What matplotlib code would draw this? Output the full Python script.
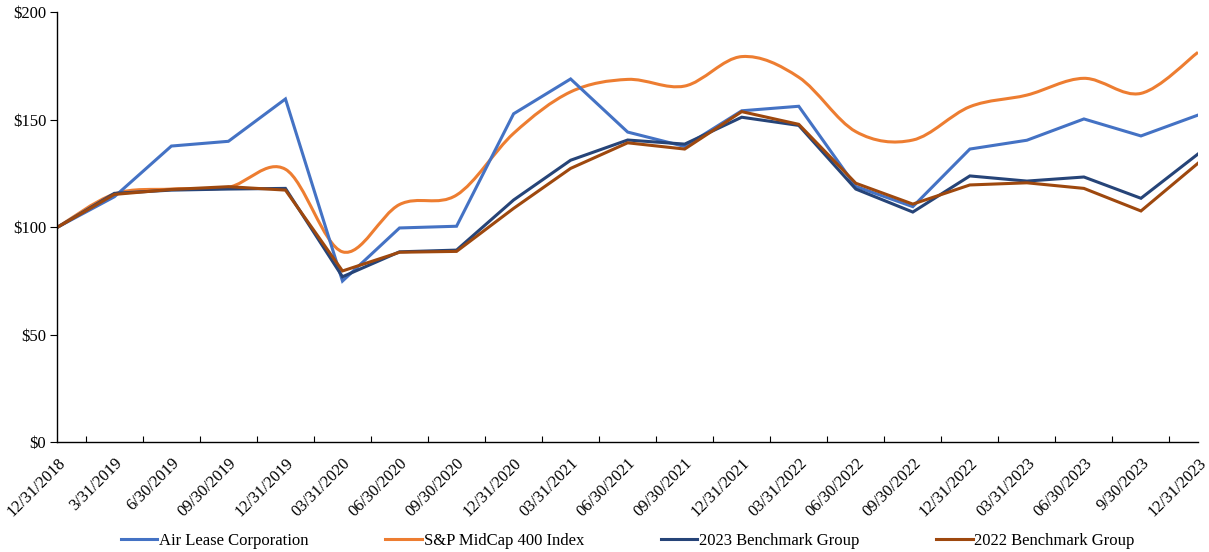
import matplotlib.pyplot as plt
from matplotlib.path import Path
from matplotlib.patches import PathPatch
from matplotlib.lines import Line2D
from matplotlib.ticker import FuncFormatter, FixedLocator

plt.rcParams['font.family'] = ['Liberation Serif', 'DejaVu Serif']

dates = ['12/31/2018', '3/31/2019', '6/30/2019', '09/30/2019', '12/31/2019',
         '03/31/2020', '06/30/2020', '09/30/2020', '12/31/2020', '03/31/2021',
         '06/30/2021', '09/30/2021', '12/31/2021', '03/31/2022', '06/30/2022',
         '09/30/2022', '12/31/2022', '03/31/2023', '06/30/2023', '9/30/2023',
         '12/31/2023']

# cumulative total return, $100 invested
air_lease = [100, 114.2, 137.8, 140.0, 159.7, 75.0, 99.7, 100.5, 152.8, 169.0,
             144.3, 137.6, 154.2, 156.3, 119.0, 109.6, 136.4, 140.5, 150.4, 142.5, 152.2]
sp_midcap = [100, 115.5, 117.8, 118.6, 127.0, 88.6, 110.6, 115.0, 143.7, 163.0,
             168.8, 165.7, 179.4, 169.8, 144.5, 140.6, 156.1, 161.5, 169.3, 162.3, 181.4]
bench_2023 = [100, 115.8, 117.3, 117.8, 118.1, 77.0, 88.6, 89.4, 112.7, 131.2,
              140.6, 138.7, 151.2, 147.4, 117.8, 107.1, 123.9, 121.5, 123.4, 113.5, 134.1]
bench_2022 = [100, 115.3, 117.6, 118.9, 117.3, 79.7, 88.4, 88.8, 108.8, 127.4,
              139.3, 136.4, 153.8, 147.9, 120.5, 110.8, 119.7, 120.7, 118.1, 107.6, 129.8]

labels = ['Air Lease Corporation', 'S&P MidCap 400 Index',
          '2023 Benchmark Group', '2022 Benchmark Group']
colors = ['#4472C4', '#ED7D31', '#264478', '#9E480E']


def smooth_path(x, y):
    # Bezier curve through the points, like Excel's "smoothed line"
    n = len(x)
    verts = [(x[0], y[0])]
    codes = [Path.MOVETO]
    for i in range(n - 1):
        x0, y0 = (x[i - 1], y[i - 1]) if i > 0 else (x[i], y[i])
        x3, y3 = (x[i + 2], y[i + 2]) if i + 2 < n else (x[i + 1], y[i + 1])
        c1 = (x[i] + (x[i + 1] - x0) / 6, y[i] + (y[i + 1] - y0) / 6)
        c2 = (x[i + 1] - (x3 - x[i]) / 6, y[i + 1] - (y3 - y[i]) / 6)
        verts += [c1, c2, (x[i + 1], y[i + 1])]
        codes += [Path.CURVE4] * 3
    return Path(verts, codes)


fig = plt.figure(figsize=(12.09, 5.52), dpi=100)
ax = fig.add_axes([0.0474, 0.1987, 0.9435, 0.779])

xs = list(range(len(dates)))
lw = 2.2
ax.plot(xs, air_lease, color=colors[0], lw=lw, solid_joinstyle='miter')
ax.add_patch(PathPatch(smooth_path(xs, sp_midcap), fill=False,
                       edgecolor=colors[1], lw=lw))
ax.plot(xs, bench_2023, color=colors[2], lw=lw, solid_joinstyle='miter')
ax.plot(xs, bench_2022, color=colors[3], lw=lw, solid_joinstyle='miter')

ax.set_xlim(0, len(dates) - 1)
ax.set_ylim(0, 200)
ax.set_yticks([0, 50, 100, 150, 200])
ax.yaxis.set_major_formatter(FuncFormatter(lambda v, p: f'${v:.0f}'))

ax.set_xticks(xs)
ax.set_xticklabels(dates, rotation=45, ha='right', rotation_mode='anchor')
ax.xaxis.set_minor_locator(FixedLocator([i + 0.5 for i in xs[:-1]]))
ax.tick_params(axis='x', which='major', length=0, pad=9, labelsize=12)
ax.tick_params(axis='x', which='minor', direction='in', length=4, width=0.8)
ax.tick_params(axis='y', direction='out', length=5, width=0.8, labelsize=12, pad=3)

for s in ['top', 'right']:
    ax.spines[s].set_visible(False)
for s in ['left', 'bottom']:
    ax.spines[s].set_linewidth(1.0)

handles = [Line2D([], [], color=c, lw=lw) for c in colors]
ax.legend(handles, labels, loc='center', bbox_to_anchor=(0.5, -0.23), ncol=4,
          frameon=False, fontsize=12, handlelength=2.2, handletextpad=0.1,
          columnspacing=4.6)

fig.savefig('out.png', dpi=100)
